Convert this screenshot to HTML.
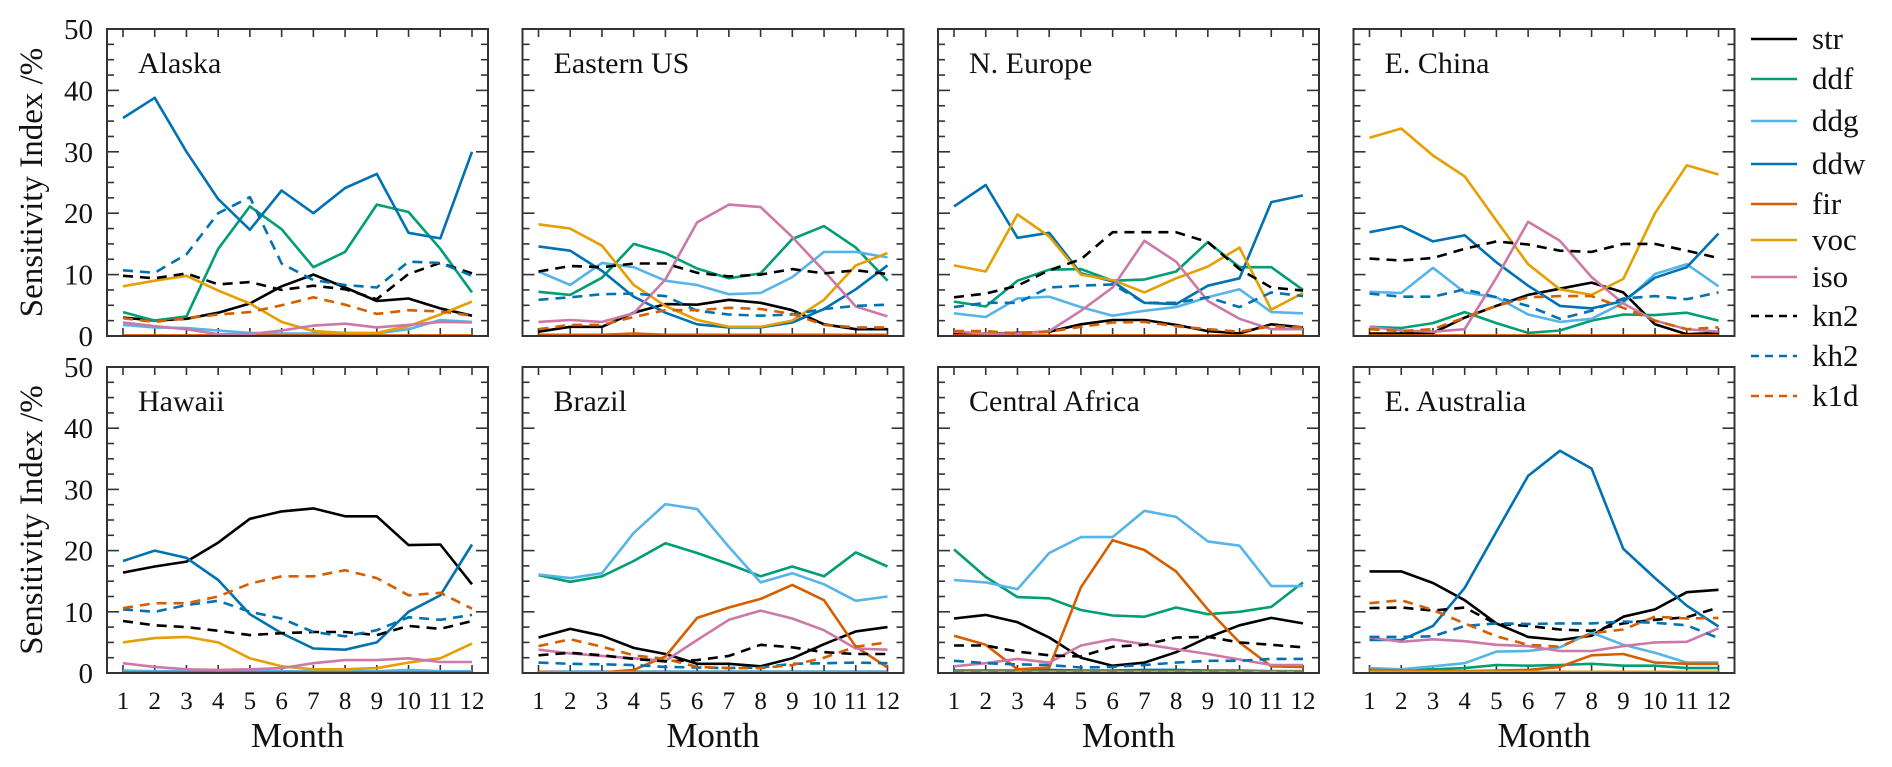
<!DOCTYPE html>
<html><head><meta charset="utf-8"><title>Sensitivity Index by Month</title>
<style>
html,body{margin:0;padding:0;background:#fff;}
svg{display:block;font-family:"Liberation Serif","DejaVu Serif",serif;}
</style></head>
<body>
<svg id="chart" width="1892" height="767" viewBox="0 0 1892 767" xmlns="http://www.w3.org/2000/svg"></svg>
<script>
const months = [1,2,3,4,5,6,7,8,9,10,11,12];
const yTicks = [0,10,20,30,40,50];
const seriesNames = ["str","ddf","ddg","ddw","fir","voc","iso","kn2","kh2","k1d"];
const regionNames = ["Alaska","Eastern US","N. Europe","E. China","Hawaii","Brazil","Central Africa","E. Australia"];

const alaska = {
 str:[3,2.5,2.8,3.8,5.3,8.1,10,7.9,5.7,6.1,4.5,3.3],
 ddf:[3.9,2.5,3.2,14.2,21.1,17.4,11.2,13.7,21.4,20.2,14.2,7.1],
 ddg:[1.8,1.4,1.3,0.9,0.5,0.4,0.4,0.4,0.4,1.1,2.6,2.3],
 ddw:[35.5,38.8,30,22.3,17.3,23.7,20,24.1,26.4,16.8,15.9,30],
 fir:[0.1,0.1,0.1,0.1,0.1,0.1,0.1,0.1,0.1,0.1,0.1,0.1],
 voc:[8.1,9,9.8,7.4,5.3,2.3,0.8,0.5,0.5,1.6,3.5,5.6],
 iso:[2.2,1.6,1.1,0.3,0.3,0.9,1.7,2,1.4,1.8,2.3,2.2],
 kn2:[9.8,9.4,10.2,8.4,8.8,7.5,8.2,7.6,6,10.1,11.9,10.2],
 kh2:[10.7,10.3,13.3,20,22.6,11.8,9.1,8.3,7.9,12.1,11.9,9.8],
 k1d:[2.9,2.3,2.9,3.5,3.9,5,6.3,5.1,3.6,4.2,4,3.3]
};
const easternUS = {
 str:[0.7,1.5,1.5,3.8,5.2,5.1,5.9,5.4,4.2,1.9,1.1,1.1],
 ddf:[7.2,6.7,9.5,15,13.5,11,9.4,10.2,15.8,17.9,14.4,9],
 ddg:[10.5,8.3,11.9,11.2,9,8.3,6.8,7,9.6,13.7,13.7,12.8],
 ddw:[14.6,13.9,10.6,6.4,3.8,1.9,1.4,1.4,2.2,4.4,7.6,11.5],
 fir:[0.2,0.2,0.2,0.4,0.2,0.2,0.2,0.2,0.2,0.2,0.2,0.2],
 voc:[18.2,17.5,14.7,8.3,4.9,2.6,1.5,1.5,2.5,5.9,11.5,13.5],
 iso:[2.3,2.6,2.3,3.7,9.2,18.5,21.4,21,16.1,10.6,4.8,3.2],
 kn2:[10.5,11.4,11.2,11.8,11.8,10.3,9.7,10,10.9,10.2,10.7,10.1],
 kh2:[5.9,6.3,6.8,6.9,6.5,4.1,3.5,3.3,3.5,4.4,4.9,5.1],
 k1d:[1.1,1.8,1.8,3.1,4.2,4.2,4.6,4.4,3.6,1.8,1.4,1.4]
};
const nEurope = {
 str:[0.3,0.4,0.5,0.7,1.9,2.6,2.6,1.8,0.8,0.4,1.9,1.4],
 ddf:[5.6,4.8,9,10.8,10.9,9,9.2,10.5,15.3,11.2,11.2,7.5],
 ddg:[3.7,3.1,6.1,6.4,4.7,3.3,4.1,4.7,6.3,7.6,3.9,3.7],
 ddw:[21.1,24.6,16,16.8,10.2,8.9,5.4,5.2,8.2,9.4,21.8,22.9],
 fir:[0.1,0.1,0.1,0.1,0.1,0.1,0.1,0.1,0.1,0.1,0.1,0.1],
 voc:[11.5,10.5,19.8,16.2,10,9.1,7.1,9.4,11.3,14.4,4.3,7.0],
 iso:[0.7,0.4,0.4,0.8,4.1,7.9,15.5,12.1,5.7,2.8,1.1,1.1],
 kn2:[6.3,6.9,8.2,10.7,12.5,16.9,16.9,16.9,15.3,10.9,7.9,7.4],
 kh2:[4.7,5.4,5.4,7.9,8.2,8.4,5.4,5.4,6.3,4.7,7.1,6.5],
 k1d:[0.8,0.8,0.4,0.7,1.5,2.2,2.3,1.6,1.1,0.7,1.6,1.4]
};
const eChina = {
 str:[0.4,0.4,0.5,3,4.9,6.7,7.7,8.7,7.1,1.9,0.3,0.5],
 ddf:[1.5,1.3,2.1,3.9,2.1,0.5,0.9,2.5,3.5,3.4,3.8,2.5],
 ddg:[7.2,7,11.1,7.1,6.3,3.5,2.3,2.8,5.4,10.1,11.7,8.1],
 ddw:[16.9,17.9,15.4,16.4,12,8.2,4.9,4.5,5.7,9.5,11.2,16.7],
 fir:[0.1,0.1,0.1,0.1,0.1,0.1,0.1,0.1,0.1,0.1,0.1,0.1],
 voc:[32.3,33.8,29.4,26,18.8,11.7,7.6,6.7,9.3,20,27.8,26.3],
 iso:[1.5,0.9,0.7,1.1,9.5,18.6,15.5,9.6,5.3,2.5,1.1,0.7],
 kn2:[12.6,12.3,12.7,14.2,15.4,14.9,13.9,13.7,15,15,13.9,12.7],
 kh2:[6.9,6.4,6.4,7.6,6.3,4.9,2.8,4.1,6.1,6.5,6,7.1],
 k1d:[1.1,0.8,1.1,3,4.9,6.3,6.5,6.5,4.6,2.5,1.1,1.4]
};
const hawaii = {
 str:[16.4,17.4,18.2,21.3,25.2,26.4,26.9,25.6,25.6,20.9,21,14.5],
 ddf:[0.2,0.2,0.2,0.2,0.2,0.2,0.2,0.2,0.2,0.2,0.2,0.2],
 ddg:[0.4,0.3,0.3,0.3,0.3,0.3,0.3,0.3,0.3,0.5,0.3,0.3],
 ddw:[18.3,20,18.8,15.2,9.6,6.5,4,3.8,5,10,12.7,21],
 fir:[0.1,0.1,0.1,0.1,0.1,0.1,0.1,0.1,0.1,0.1,0.1,0.1],
 voc:[5,5.7,5.9,5,2.4,1.1,0.6,0.6,0.8,1.7,2.4,4.8],
 iso:[1.6,1,0.6,0.5,0.6,0.8,1.6,2.1,2.1,2.4,1.8,1.8],
 kn2:[8.5,7.8,7.5,6.9,6.2,6.5,6.7,6.7,6.2,7.7,7.2,8.5],
 kh2:[10.4,10,11.1,11.8,10,8.9,6.7,6,7,9.1,8.7,9.5],
 k1d:[10.6,11.4,11.4,12.5,14.6,15.8,15.8,16.8,15.5,12.7,13.1,10.5]
};
const brazil = {
 str:[5.8,7.2,6.1,4.1,3.1,1.5,1.5,1.1,2.4,4.7,6.8,7.5],
 ddf:[16,14.9,15.8,18.3,21.2,19.6,17.8,15.8,17.4,15.8,19.7,17.4],
 ddg:[16.1,15.5,16.3,22.9,27.6,26.8,20.6,14.8,16.3,14.5,11.8,12.5],
 ddw:[0.2,0.2,0.2,0.2,0.2,0.2,0.2,0.2,0.2,0.2,0.2,0.2],
 fir:[0.2,0.1,0.1,0.5,2.7,9,10.7,12.1,14.4,11.9,4.3,0.9],
 voc:[0.1,0.1,0.1,0.1,0.1,0.1,0.1,0.1,0.1,0.1,0.1,0.1],
 iso:[3.8,3.2,2.8,2.4,2,5.4,8.7,10.2,8.9,7,4,3.8],
 kn2:[2.9,3.3,2.9,2.3,1.9,2.1,2.8,4.6,4.2,3.4,3.1,3.1],
 kh2:[1.7,1.5,1.4,1.3,1,0.9,0.8,0.9,1.5,1.6,1.7,1.6],
 k1d:[4.4,5.5,4.3,2.9,2.3,1,0.8,0.8,1.3,2.5,4.3,5]
};
const centralAfrica = {
 str:[8.9,9.5,8.3,5.8,2.5,1.2,1.7,3.4,5.8,7.8,9,8.1],
 ddf:[20.2,15.7,12.4,12.2,10.3,9.4,9.2,10.7,9.6,10,10.8,14.8],
 ddg:[15.2,14.8,13.7,19.6,22.2,22.2,26.5,25.5,21.5,20.8,14.2,14.2],
 ddw:[0.4,0.4,0.4,0.5,0.4,0.4,0.5,0.5,0.4,0.4,0.3,0.3],
 fir:[6.1,4.6,0.6,0.9,14,21.7,20.1,16.6,10.4,5,1.1,1],
 voc:[0.2,0.2,0.2,0.2,0.2,0.2,0.2,0.2,0.2,0.2,0.2,0.2],
 iso:[1.1,1.6,2.3,1.7,4.5,5.5,4.7,3.9,3.1,2.2,1.3,1.3],
 kn2:[4.5,4.5,3.5,2.9,2.7,4.3,4.6,5.8,5.9,5,4.6,4.2],
 kh2:[2,1.6,1.4,1.3,0.9,1,1.3,1.7,2,2,2.3,2.3],
 k1d:[0.1,0.1,0.1,0.1,0.1,0.1,0.1,0.1,0.1,0.1,0.1,0.1]
};
const eAustralia = {
 str:[16.6,16.6,14.7,11.9,8.1,5.9,5.4,6.1,9.2,10.4,13.2,13.6],
 ddf:[0.6,0.5,0.6,0.8,1.3,1.2,1.3,1.5,1.2,1.2,0.8,0.8],
 ddg:[0.8,0.6,1.1,1.6,3.5,3.6,4.2,6.6,4.6,3.3,1.7,1.7],
 ddw:[5.4,5.4,7.7,13.9,23.1,32.2,36.3,33.4,20.3,15.5,11,7.6],
 fir:[0.5,0.4,0.3,0.3,0.4,0.5,1,2.9,3.1,1.7,1.5,1.5],
 voc:[0.2,0.2,0.2,0.2,0.2,0.2,0.2,0.2,0.2,0.2,0.2,0.2],
 iso:[5.8,5.1,5.5,5.2,4.6,4.4,3.6,3.6,4.4,5,5.1,7.3],
 kn2:[10.6,10.7,10.2,10.7,8,7.7,7.1,6.9,8.1,8.7,9.1,10.7],
 kh2:[5.9,5.9,6,7.7,8.1,8,8.1,8.1,8.4,8.2,7.8,5.7],
 k1d:[11.4,11.9,10.3,8.1,6,4.6,4.3,6.5,7.1,9.2,8.9,9]
};
const regionData = [alaska,easternUS,nEurope,eChina,hawaii,brazil,centralAfrica,eAustralia];

const styles = {
 str:{c:"#000000",d:null}, ddf:{c:"#009E73",d:null}, ddg:{c:"#56B4E9",d:null},
 ddw:{c:"#0072B2",d:null}, fir:{c:"#D55E00",d:null}, voc:{c:"#E69F00",d:null},
 iso:{c:"#CC79A7",d:null}, kn2:{c:"#000000",d:"10,7"}, kh2:{c:"#0072B2",d:"10,7"}, k1d:{c:"#D55E00",d:"10,7"}
};

const NS="http://www.w3.org/2000/svg";
const svg=document.getElementById("chart");
function mk(tag,attrs,parent,text){
  const e=document.createElementNS(NS,tag);
  for(const k in attrs) e.setAttribute(k,attrs[k]);
  if(text!==undefined) e.textContent=text;
  (parent||svg).appendChild(e); return e;
}
const panelLefts=[107,522.5,938,1353.5];
const panelW=381;
const rowTop=[29,367], rowBot=[336,673];
const yMax=50;
const serif='"Liberation Serif","DejaVu Serif",serif';

for(let p=0;p<8;p++){
  const col=p%4,row=Math.floor(p/4);
  const L=panelLefts[col],R=L+panelW,T=rowTop[row],B=rowBot[row];
  const xS=m=>L+16+(m-1)*(R-L-32)/11;
  const yS=v=>B-(v/yMax)*(B-T);
  const g=mk("g",{},svg);
  
  
  for(const m of months){
    const t1=mk("line",{x1:xS(m),x2:xS(m),y1:B,y2:B-8,stroke:"#333","stroke-width":1.6},g);
    
    
    const t2=mk("line",{x1:xS(m),x2:xS(m),y1:T,y2:T+8,stroke:"#333","stroke-width":1.6},g);
    
    
    if(row===1){
      const lb=mk("text",{x:xS(m),y:709,"text-anchor":"middle","font-size":25,fill:"#111","font-family":serif},g,String(m));
      
      
    }
  }
  for(let v=0;v<=yMax;v+=2.5){
    const major=(v%10===0);
    const len=major?12:7;
    const a=mk("line",{x1:L,x2:L+len,y1:yS(v),y2:yS(v),stroke:"#333","stroke-width":1.6},g);
    
    
    const b=mk("line",{x1:R,x2:R-len,y1:yS(v),y2:yS(v),stroke:"#333","stroke-width":1.6},g);
    
    
  }
  if(col===0){
    for(const v of yTicks){
      const lb=mk("text",{x:93,y:yS(v)+10,"text-anchor":"end","font-size":29,fill:"#111","font-family":serif},g,String(v));
      
      
    }
    const cy=(T+B)/2;
    const yt=mk("text",{x:0,y:0,transform:`translate(42,${cy}) rotate(-90)`,"text-anchor":"middle","font-size":33,fill:"#111","font-family":serif},g,"Sensitivity Index /%");
    
    
  }
  if(row===1){
    const xt=mk("text",{x:(L+R)/2,y:747,"text-anchor":"middle","font-size":35,fill:"#111","font-family":serif},g,"Month");
    
    
  }
  const title=mk("text",{x:L+31,y:T+44,"font-size":30,fill:"#111","font-family":serif},g,regionNames[p]);
  
  
  const data=regionData[p];
  for(const s of seriesNames){
    const pts=data[s].map((v,i)=>xS(months[i]).toFixed(1)+","+yS(v).toFixed(1)).join(" ");
    const attrs={points:pts,fill:"none",stroke:styles[s].c,"stroke-width":2.6,"stroke-linejoin":"round"};
    if(styles[s].d) attrs["stroke-dasharray"]=styles[s].d;
    const pl=mk("polyline",attrs,g);
    
    
  }
  const fr=mk("rect",{x:L,y:T,width:R-L,height:B-T,fill:"none",stroke:"#333","stroke-width":2},g);
  
  
}

const legendY=[39,79,121,164,204,240,277,316,356,396];
const lg=mk("g",{},svg);


seriesNames.forEach((s,i)=>{
  const y=legendY[i];
  const la={x1:1751,x2:1797,y1:y,y2:y,stroke:styles[s].c,"stroke-width":2.6};
  if(styles[s].d) la["stroke-dasharray"]="8,6";
  const ln=mk("line",la,lg);
  
  
  const tx=mk("text",{x:1812,y:y+10,"font-size":31,fill:"#111","font-family":serif},lg,s);
  
  
});
</script>
</body></html>
